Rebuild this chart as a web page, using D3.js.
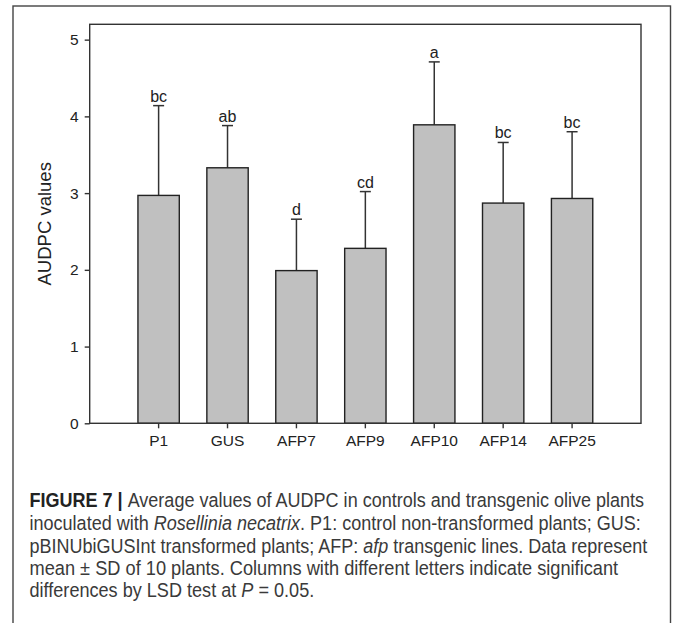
<!DOCTYPE html>
<html>
<head>
<meta charset="utf-8">
<script src="https://cdn.jsdelivr.net/npm/d3@7"></script>
<style>
  body { margin: 0; background: #fff; }
  svg { display: block; }
</style>
</head>
<body>
<div id="chart"></div>
<script>
const lines = ["P1", "GUS", "AFP7", "AFP9", "AFP10", "AFP14", "AFP25"];
const means = [2.97, 3.33, 1.99, 2.28, 3.89, 2.87, 2.93];
const sds = [1.17, 0.55, 0.67, 0.74, 0.82, 0.79, 0.87];
const letters = ["bc", "ab", "d", "cd", "a", "bc", "bc"];
const yTicks = [0, 1, 2, 3, 4, 5];

const width = 675;
const height = 623;
const margin = {top: 24.3, right: 34, bottom: 199.7, left: 89.7};
const innerW = width - margin.left - margin.right;
const innerH = height - margin.top - margin.bottom;

const svg = d3.select("#chart").append("svg")
    .attr("width", width)
    .attr("height", height);

// outer figure frame
svg.append("rect")
    .attr("x", 13)
    .attr("y", 6)
    .attr("width", 657.5)
    .attr("height", 630)
    .attr("fill", "none")
    .attr("stroke", "#444")
    .attr("stroke-width", 1.4);

const g = svg.append("g")
    .attr("transform", `translate(${margin.left},${margin.top})`);

const x = d3.scaleBand()
    .domain(lines)
    .range([0, innerW])
    .paddingInner(0.4)
    .paddingOuter(0.7);

const y = d3.scaleLinear()
    .domain([0, 5.2])
    .range([innerH, 0]);

// error bars, upper side only
const err = g.append("g")
    .attr("stroke", "#333")
    .attr("stroke-width", 1.5);

lines.forEach((d, i) => {
    const cx = x(d) + x.bandwidth() / 2;
    err.append("line")
        .attr("x1", cx).attr("x2", cx)
        .attr("y1", y(means[i])).attr("y2", y(means[i] + sds[i]));
    err.append("line")
        .attr("x1", cx - 5.5).attr("x2", cx + 5.5)
        .attr("y1", y(means[i] + sds[i])).attr("y2", y(means[i] + sds[i]));
});

g.append("g")
    .selectAll("rect")
    .data(lines)
    .join("rect")
    .attr("x", d => x(d))
    .attr("y", (d, i) => y(means[i]))
    .attr("width", x.bandwidth())
    .attr("height", (d, i) => innerH - y(means[i]))
    .attr("fill", "#c0c0c0")
    .attr("stroke", "#222")
    .attr("stroke-width", 1.4);

// significance letters
g.append("g")
    .selectAll("text")
    .data(lines)
    .join("text")
    .attr("x", d => x(d) + x.bandwidth() / 2)
    .attr("y", (d, i) => y(means[i] + sds[i]) - 4)
    .attr("text-anchor", "middle")
    .attr("font-family", "'Liberation Sans', Arial, sans-serif")
    .attr("font-size", 16)
    .attr("fill", "#222")
    .text((d, i) => letters[i]);

// plot frame
g.append("rect")
    .attr("width", innerW)
    .attr("height", innerH)
    .attr("fill", "none")
    .attr("stroke", "#333")
    .attr("stroke-width", 1.4);

const xAxis = g.append("g")
    .attr("transform", `translate(0,${innerH})`)
    .call(d3.axisBottom(x).tickSize(5).tickPadding(7));

const yAxis = g.append("g")
    .call(d3.axisLeft(y).tickValues(yTicks).tickFormat(d3.format("d")).tickSize(5).tickPadding(6));

[xAxis, yAxis].forEach(a => {
    a.select(".domain").remove();
    a.selectAll(".tick line").attr("stroke", "#333").attr("stroke-width", 1.4);
    a.selectAll(".tick text")
        .attr("font-family", "'Liberation Sans', Arial, sans-serif")
        .attr("font-size", 15.5)
        .attr("fill", "#222");
});

svg.append("text")
    .attr("transform", `translate(51,${margin.top + innerH / 2}) rotate(-90)`)
    .attr("text-anchor", "middle")
    .attr("font-family", "'Liberation Sans', Arial, sans-serif")
    .attr("font-size", 18.5)
    .attr("fill", "#222")
    .text("AUDPC values");

// caption, each line squeezed horizontally to the condensed width of the original
const caption = [
    {y: 507, w: 615, parts: [["FIGURE 7 | ", "bold"], ["Average values of AUDPC in controls and transgenic olive plants", ""]]},
    {y: 530, w: 612, parts: [["inoculated with ", ""], ["Rosellinia necatrix", "italic"], [". P1: control non-transformed plants; GUS:", ""]]},
    {y: 552.5, w: 618, parts: [["pBINUbiGUSInt transformed plants; AFP: ", ""], ["afp", "italic"], [" transgenic lines. Data represent", ""]]},
    {y: 575, w: 589, parts: [["mean \u00b1 SD of 10 plants. Columns with different letters indicate significant", ""]]},
    {y: 597, w: 285, parts: [["differences by LSD test at ", ""], ["P", "italic"], [" = 0.05.", ""]]}
];

caption.forEach(c => {
    const t = svg.append("text")
        .attr("x", 0)
        .attr("y", 0)
        .attr("font-family", "'Liberation Sans', Arial, sans-serif")
        .attr("font-size", 19.5)
        .attr("fill", "#3a3a3a");
    c.parts.forEach(p => {
        const s = t.append("tspan").text(p[0]);
        if (p[1] === "bold") s.attr("font-weight", "bold").attr("fill", "#222");
        if (p[1] === "italic") s.attr("font-style", "italic");
    });
    const natural = t.node().getComputedTextLength();
    t.attr("transform", `translate(29.5,${c.y}) scale(${c.w / natural},1)`);
});
</script>
</body>
</html>
